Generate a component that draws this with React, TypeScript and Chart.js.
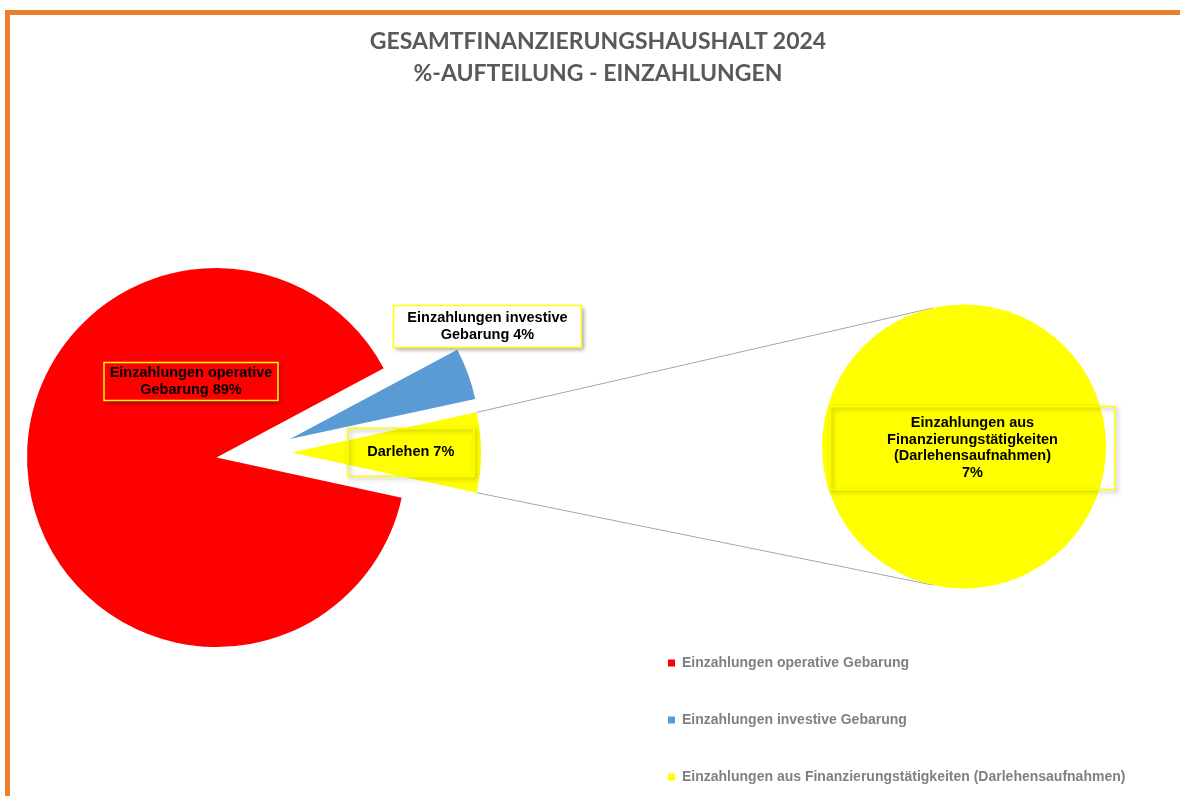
import React, { useEffect, useRef } from 'react';
import { Chart, registerables } from 'chart.js';

Chart.register(...registerables);

// ---------- data ----------
const TITLE_LINES = ['GESAMTFINANZIERUNGSHAUSHALT 2024', '%-AUFTEILUNG - EINZAHLUNGEN'];
const CATEGORIES = [
  'Einzahlungen operative Gebarung',
  'Einzahlungen investive Gebarung',
  'Einzahlungen aus Finanzierungstätigkeiten (Darlehensaufnahmen)',
];
const SHARES = [88.8, 4.4, 6.8];
const COLORS = ['#FF0000', '#5B9BD5', '#FFFF00'];
const MAIN_LABEL_LINES = [['Einzahlungen operative', 'Gebarung'], ['Einzahlungen investive', 'Gebarung'], ['Darlehen']];
const SECOND_CATEGORIES = ['Einzahlungen aus Finanzierungstätigkeiten (Darlehensaufnahmen)'];
const SECOND_SHARES = [6.8];
const SECOND_COLORS = ['#FFFF00'];
const SECOND_LABEL_LINES = [['Einzahlungen aus', 'Finanzierungstätigkeiten', '(Darlehensaufnahmen)']];

// ---------- styles / layout ----------
const FONT_FAMILY = "'Liberation Sans', Arial, sans-serif";
const LEGEND_FONT_SIZE = 14;
const LEGEND_PADDING = 43;
const LEGEND_BOX = 7;
// main pie: canvas starts left of the page so that the right-hand legend lands at the reference position
const MAIN = { left: -192, top: 0, height: 830, pad: { left: 0, right: 10, top: 88, bottom: 3 }, radius: 189.5, rotation: 102.25, legendLeft: 625 };
const EXPLODE = [
  { dist: 0, dir: 0 },
  { dist: 75.8, dir: -14.1 },
  { dist: 75.2, dir: -3.8 },
];
const MAIN_LABEL_STYLE = [
  { dx: -25.5, dy: -76, w: 174, h: 38, fill: '#FF0000' },
  { dx: 271, dy: -131, w: 188, h: 42, fill: '#FFFFFF' },
  { dx: 194.3, dy: -5.3, w: 126, h: 48, fill: null as string | null },
];
const SECOND = { left: 400, top: 0, width: 780, height: 796, pad: { left: 348, right: 0, top: 97, bottom: 0 }, radius: 142 };
const SECOND_LABEL_STYLE = [{ dx: 8.5, dy: 1.5, w: 285, h: 83, fill: null as string | null }];
const CONNECTOR_ANGLE = 102.5;
const LABEL_FONT = `bold 14.5px ${FONT_FAMILY}`;
const LABEL_LINE_H = 16.8;

const total = SHARES.reduce((a, b) => a + b, 0);
const pct = (v: number) => `${Math.round((v / total) * 100)}%`;

function drawLabelBox(ctx: CanvasRenderingContext2D, cx: number, cy: number, w: number, h: number, lines: string[], fill: string | null) {
  const x = cx - w / 2;
  const y = cy - h / 2;
  ctx.save();
  ctx.shadowColor = 'rgba(0,0,0,0.35)';
  ctx.shadowBlur = 4;
  ctx.shadowOffsetX = 2;
  ctx.shadowOffsetY = 2;
  ctx.beginPath();
  ctx.rect(x, y, w, h);
  if (fill) {
    ctx.fillStyle = fill;
    ctx.fill();
    ctx.shadowColor = 'transparent';
  }
  ctx.strokeStyle = '#FFFF00';
  ctx.lineWidth = 1.5;
  ctx.stroke();
  ctx.restore();
  ctx.save();
  ctx.font = LABEL_FONT;
  ctx.fillStyle = '#000000';
  ctx.textAlign = 'center';
  ctx.textBaseline = 'middle';
  lines.forEach((l, i) => ctx.fillText(l, cx, cy + (i - (lines.length - 1) / 2) * LABEL_LINE_H));
  ctx.restore();
}

function explodeVec(i: number) {
  const e = EXPLODE[i];
  const a = (e.dir * Math.PI) / 180;
  return { x: Math.cos(a) * e.dist, y: Math.sin(a) * e.dist };
}

export default function App() {
  const c1 = useRef<HTMLCanvasElement>(null);
  const c2 = useRef<HTMLCanvasElement>(null);

  useEffect(() => {
    document.body.style.margin = '0';
    document.body.style.overflow = 'hidden';

    // width of the legend box as Chart.js will compute it, so that it sits at MAIN.legendLeft
    const mctx = document.createElement('canvas').getContext('2d')!;
    mctx.font = `bold ${LEGEND_FONT_SIZE}px ${FONT_FAMILY}`;
    const textW = Math.max(...CATEGORIES.map((t) => mctx.measureText(t).width));
    const legendW = LEGEND_PADDING + LEGEND_BOX + LEGEND_FONT_SIZE / 2 + textW + 10;
    const mainWidth = Math.ceil(MAIN.legendLeft + legendW - MAIN.left);
    const padRight = mainWidth - (MAIN.legendLeft + legendW - MAIN.left);
    const chartAreaCenterPage = 216.5;
    const padLeft = 2 * chartAreaCenterPage - MAIN.legendLeft - MAIN.left;

    const canvas1 = c1.current!;
    canvas1.width = mainWidth;
    canvas1.height = MAIN.height;
    canvas1.style.width = `${mainWidth}px`;
    canvas1.style.height = `${MAIN.height}px`;

    const mainPlugin = {
      id: 'mainPieExtras',
      beforeDatasetDraw(chart: any, args: any) {
        const ctx = chart.ctx;
        args.meta.data.forEach((arc: any, i: number) => {
          const v = explodeVec(i);
          ctx.save();
          ctx.translate(v.x, v.y);
          arc.draw(ctx);
          ctx.restore();
        });
        return false;
      },
      afterDatasetsDraw(chart: any) {
        const ctx = chart.ctx;
        const arcs = chart.getDatasetMeta(0).data;
        arcs.forEach((arc: any, i: number) => {
          const s = MAIN_LABEL_STYLE[i];
          const lines = MAIN_LABEL_LINES[i].slice();
          lines[lines.length - 1] = `${lines[lines.length - 1]} ${pct(SHARES[i])}`;
          drawLabelBox(ctx, arc.x + s.dx, arc.y + s.dy, s.w, s.h, lines, s.fill);
        });
      },
    };

    const chart1 = new Chart(canvas1, {
      type: 'pie',
      data: {
        labels: CATEGORIES,
        datasets: [{ data: SHARES, backgroundColor: COLORS, borderWidth: 0 }],
      },
      options: {
        animation: false,
        responsive: false,
        devicePixelRatio: 1,
        events: [],
        radius: MAIN.radius,
        rotation: MAIN.rotation,
        layout: { padding: { left: padLeft, right: padRight, top: MAIN.pad.top, bottom: MAIN.pad.bottom } },
        plugins: {
          tooltip: { enabled: false },
          title: { display: false },
          legend: {
            display: true,
            position: 'right',
            align: 'end',
            labels: {
              boxWidth: LEGEND_BOX,
              boxHeight: LEGEND_BOX,
              padding: LEGEND_PADDING,
              color: '#808080',
              font: { family: FONT_FAMILY, size: LEGEND_FONT_SIZE, weight: 'bold' },
              generateLabels: () =>
                CATEGORIES.map((t, i) => ({
                  text: t,
                  fillStyle: COLORS[i],
                  strokeStyle: COLORS[i],
                  lineWidth: 0,
                  hidden: false,
                  index: i,
                  fontColor: '#808080',
                })),
            },
          },
        },
      } as any,
      plugins: [mainPlugin],
    });

    const secondPlugin = {
      id: 'secondPieExtras',
      beforeDatasetsDraw(chart: any) {
        const ctx = chart.ctx;
        const src: any = chart1.getDatasetMeta(0).data[2];
        const sec: any = chart.getDatasetMeta(0).data[0];
        if (!src || !sec) return;
        const v = explodeVec(2);
        const ox = MAIN.left - SECOND.left + v.x;
        const oy = MAIN.top - SECOND.top + v.y;
        const ends = [src.startAngle, src.endAngle];
        const targets = [-CONNECTOR_ANGLE, CONNECTOR_ANGLE].map((d) => (d * Math.PI) / 180);
        ctx.save();
        ctx.strokeStyle = '#A6A6A6';
        ctx.lineWidth = 1;
        ends.forEach((a: number, k: number) => {
          const x0 = src.x + ox + Math.cos(a) * src.outerRadius;
          const y0 = src.y + oy + Math.sin(a) * src.outerRadius;
          const x1 = sec.x + Math.cos(targets[k]) * sec.outerRadius;
          const y1 = sec.y + Math.sin(targets[k]) * sec.outerRadius;
          ctx.beginPath();
          ctx.moveTo(x0, y0);
          ctx.lineTo(x1, y1);
          ctx.stroke();
        });
        ctx.restore();
      },
      afterDatasetsDraw(chart: any) {
        const ctx = chart.ctx;
        chart.getDatasetMeta(0).data.forEach((arc: any, i: number) => {
          const s = SECOND_LABEL_STYLE[i];
          const lines = [...SECOND_LABEL_LINES[i], pct(SECOND_SHARES[i])];
          drawLabelBox(ctx, arc.x + s.dx, arc.y + s.dy, s.w, s.h, lines, s.fill);
        });
      },
    };

    const chart2 = new Chart(c2.current!, {
      type: 'pie',
      data: {
        labels: SECOND_CATEGORIES,
        datasets: [{ data: SECOND_SHARES, backgroundColor: SECOND_COLORS, borderWidth: 0 }],
      },
      options: {
        animation: false,
        responsive: false,
        devicePixelRatio: 1,
        events: [],
        radius: SECOND.radius,
        layout: { padding: SECOND.pad },
        plugins: {
          tooltip: { enabled: false },
          title: { display: false },
          legend: { display: false },
        },
      } as any,
      plugins: [secondPlugin],
    });

    return () => {
      chart2.destroy();
      chart1.destroy();
    };
  }, []);

  return (
    <div style={{ position: 'relative', width: 1180, height: 796, overflow: 'hidden', background: '#FFFFFF' }}>
      <canvas
        ref={c1}
        width={1500}
        height={MAIN.height}
        style={{ position: 'absolute', left: MAIN.left, top: MAIN.top, width: 1500, height: MAIN.height }}
      />
      <canvas
        ref={c2}
        width={SECOND.width}
        height={SECOND.height}
        style={{ position: 'absolute', left: SECOND.left, top: SECOND.top, width: SECOND.width, height: SECOND.height }}
      />
      <div
        style={{
          position: 'absolute',
          left: 0,
          top: 24,
          width: 1196,
          textAlign: 'center',
          fontFamily: "Lato, 'Open Sans', sans-serif",
          fontWeight: 700,
          fontSize: 23,
          lineHeight: '32px',
          color: '#595959',
        }}
      >
        {TITLE_LINES.map((t) => (
          <div key={t}>{t}</div>
        ))}
      </div>
      <div
        style={{
          position: 'absolute',
          left: 5,
          top: 10,
          width: 1300,
          height: 900,
          borderTop: '5px solid #ED7D31',
          borderLeft: '5px solid #ED7D31',
          boxSizing: 'border-box',
          pointerEvents: 'none',
        }}
      />
    </div>
  );
}
